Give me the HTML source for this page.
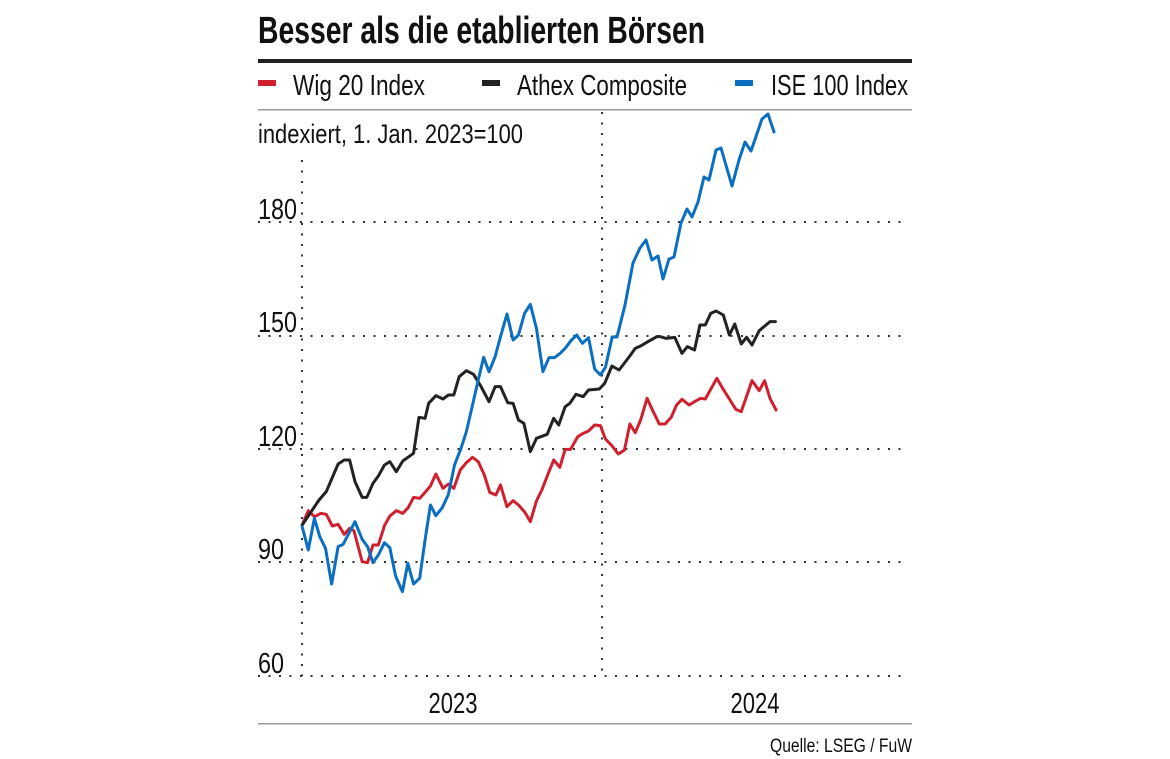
<!DOCTYPE html>
<html><head><meta charset="utf-8"><style>
html,body{margin:0;padding:0;background:#fff;}
svg{display:block;}
text{font-family:"Liberation Sans Narrow","Liberation Sans",sans-serif;fill:#111;}
</style></head><body>
<svg width="1170" height="759" viewBox="0 0 1170 759" xmlns="http://www.w3.org/2000/svg">
<text x="258" y="43" font-size="38" font-weight="bold" textLength="447" lengthAdjust="spacingAndGlyphs">Besser als die etablierten Börsen</text>
<rect x="258" y="59" width="654" height="4" fill="#222"/>
<rect x="258" y="80" width="18" height="6" fill="#d0202e"/>
<text x="293" y="95" font-size="29" textLength="132" lengthAdjust="spacingAndGlyphs">Wig 20 Index</text>
<rect x="482" y="80" width="18" height="6" fill="#222"/>
<text x="517" y="95" font-size="29" textLength="170" lengthAdjust="spacingAndGlyphs">Athex Composite</text>
<rect x="735" y="80" width="18" height="6" fill="#0a6fc0"/>
<text x="771" y="95" font-size="29" textLength="137" lengthAdjust="spacingAndGlyphs">ISE 100 Index</text>
<rect x="258" y="109" width="654" height="1.5" fill="#999"/>
<text x="258" y="143" font-size="27" textLength="265" lengthAdjust="spacingAndGlyphs">indexiert, 1. Jan. 2023=100</text>
<g font-size="29">
<text x="258" y="219" textLength="39" lengthAdjust="spacingAndGlyphs">180</text>
<text x="258" y="332" textLength="39" lengthAdjust="spacingAndGlyphs">150</text>
<text x="258" y="446" textLength="39" lengthAdjust="spacingAndGlyphs">120</text>
<text x="258" y="559" textLength="26" lengthAdjust="spacingAndGlyphs">90</text>
<text x="258" y="673" textLength="26" lengthAdjust="spacingAndGlyphs">60</text>
</g>
<g stroke="#333" stroke-width="2" stroke-dasharray="2 8.5" fill="none">
<line x1="258" y1="222" x2="908" y2="222"/>
<line x1="258" y1="336" x2="908" y2="336"/>
<line x1="258" y1="449" x2="908" y2="449"/>
<line x1="258" y1="562" x2="908" y2="562"/>
<line x1="258" y1="676" x2="908" y2="676"/>
<line x1="302" y1="160" x2="302" y2="676"/>
<line x1="602" y1="112" x2="602" y2="676"/>
</g>
<rect x="258" y="723" width="654" height="1.5" fill="#999"/>
<text x="453" y="713" font-size="29" text-anchor="middle" textLength="49" lengthAdjust="spacingAndGlyphs">2023</text>
<text x="755" y="713" font-size="29" text-anchor="middle" textLength="49" lengthAdjust="spacingAndGlyphs">2024</text>
<text x="912" y="752" font-size="19" text-anchor="end" textLength="142" lengthAdjust="spacingAndGlyphs">Quelle: LSEG / FuW</text>
<g fill="none" stroke-width="3" stroke-linejoin="round" stroke-linecap="round">
<g transform="translate(249,280) scale(0.3593,0.33333)">
<polyline vector-effect="non-scaling-stroke" stroke="#d0202e" points="148,735 165,692 182,710 200,700 215,703 232,738 248,733 265,763 280,745 292,752 315,845 330,848 345,795 360,795 377,737 392,708 410,692 428,700 443,683 458,652 475,655 490,637 505,618 520,582 540,625 555,612 570,625 588,570 605,548 622,532 638,545 655,585 670,637 687,645 700,615 718,680 735,662 750,675 768,697 783,725 800,663 815,630 832,583 848,540 865,562 880,508 895,508 915,470 930,460 945,453 962,435 978,437 992,477 1010,497 1028,522 1045,510 1060,432 1075,458 1090,420 1108,355 1125,395 1142,432 1158,432 1175,412 1190,375 1205,358 1225,375 1240,365 1257,355 1270,357 1302,295 1320,328 1337,357 1355,388 1370,395 1400,302 1420,332 1435,302 1450,355 1467,390"/>
<polyline vector-effect="non-scaling-stroke" stroke="#222" points="148,735 195,660 215,635 248,552 265,540 280,540 295,605 315,652 328,652 345,610 360,588 377,555 392,545 410,575 428,543 458,520 473,412 490,415 500,370 520,347 540,357 555,345 570,345 585,290 605,272 625,283 645,318 668,365 685,320 700,320 720,368 735,370 750,420 765,430 783,515 800,475 830,463 848,415 862,435 880,380 893,370 910,343 930,350 945,330 975,327 990,310 1010,258 1030,270 1060,228 1075,205 1090,198 1110,185 1135,170 1145,170 1160,175 1185,172 1205,220 1220,200 1240,210 1255,135 1270,135 1285,100 1300,93 1320,105 1337,165 1352,132 1370,192 1385,172 1400,195 1420,152 1450,125 1465,125"/>
<polyline vector-effect="non-scaling-stroke" stroke="#0a6fc0" points="148,740 165,810 182,715 197,770 213,805 230,912 248,800 262,793 278,760 295,725 315,778 330,800 345,848 360,825 377,788 392,803 408,888 427,935 442,850 458,912 475,895 490,780 505,675 520,707 538,683 555,643 572,555 590,505 605,455 620,385 638,300 653,232 668,275 685,230 700,170 718,102 735,180 750,165 767,100 783,73 800,145 818,275 835,233 850,233 866,220 880,205 896,182 912,165 928,190 945,173 962,267 978,285 992,262 1010,175"/>
</g>
<polyline stroke="#0a6fc0" points="612,337 617,337 625,305 633,263 640,248 646,240 652,260 658,256 663,279 669,259 674,257 681,223 687,209 692,217 698,202 704,177 709,180 716,150 721,148 732,186 739,160 745,142 751,151 762,119 768,114 774,132"/>
</g>
</svg>
</body></html>
